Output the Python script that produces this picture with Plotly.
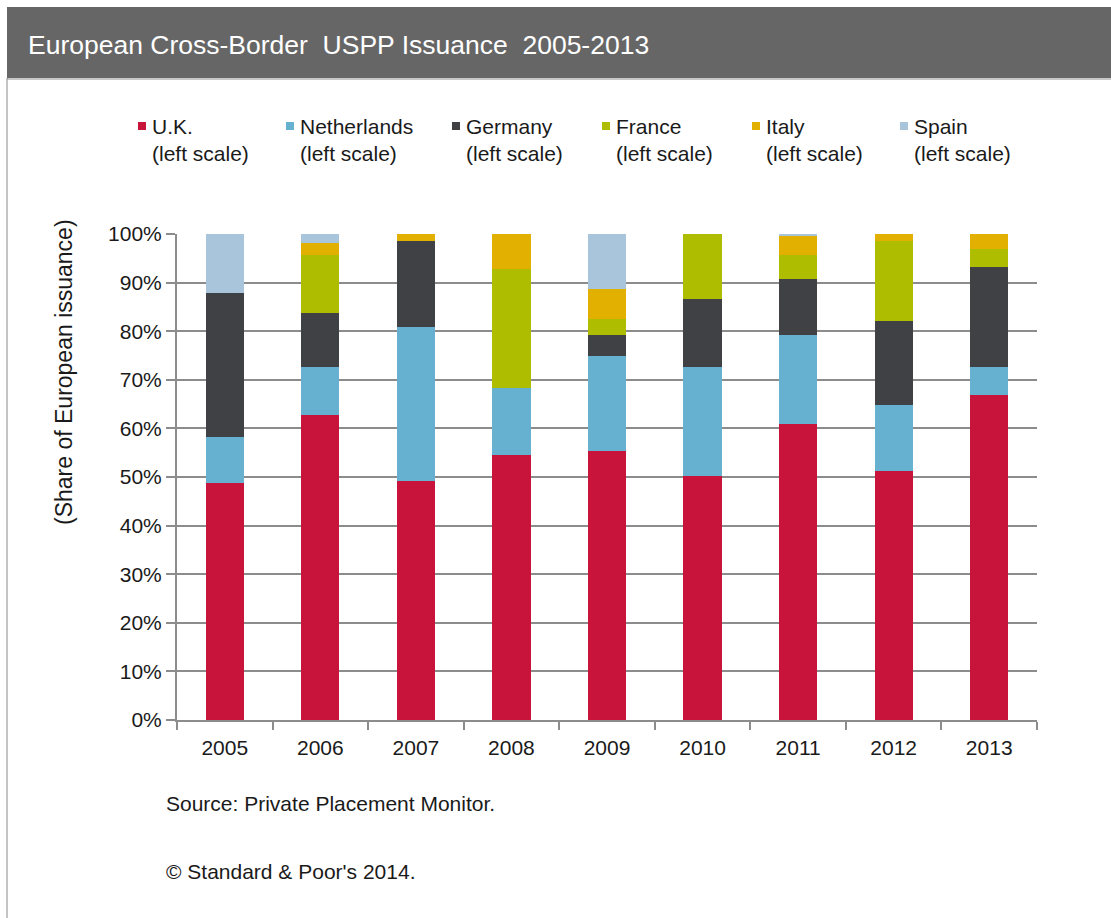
import plotly.graph_objects as go

# Share of European cross-border USPP issuance by country (% of total)
years = ["2005", "2006", "2007", "2008", "2009", "2010", "2011", "2012", "2013"]
uk = [48.7, 62.8, 49.2, 54.5, 55.3, 50.3, 61.0, 51.2, 66.8]
netherlands = [9.5, 9.8, 31.6, 13.9, 19.7, 22.3, 18.2, 13.6, 5.8]
germany = [29.7, 11.1, 17.7, 0.0, 4.2, 14.0, 11.5, 17.2, 20.6]
france = [0.0, 11.9, 0.0, 24.3, 3.3, 13.4, 5.0, 16.6, 3.7]
italy = [0.0, 2.5, 1.5, 7.3, 6.1, 0.0, 4.0, 1.4, 3.1]
spain = [12.1, 1.9, 0.0, 0.0, 11.4, 0.0, 0.3, 0.0, 0.0]

series_names = ["U.K.", "Netherlands", "Germany", "France", "Italy", "Spain"]
series_values = [uk, netherlands, germany, france, italy, spain]
series_colors = ["#C8143A", "#66B0D0", "#404144", "#AEBD00", "#E2B000", "#A9C5DC"]
y_ticks = list(range(0, 101, 10))

FONT = "Liberation Sans, Arial, sans-serif"
TXT = "#1a1a1a"
W, H = 1111, 918
PL, PR, PT, PB = 177, 1037, 234, 720  # plot area in pixels


def px(x):
    return (x - PL) / (PR - PL)


def py(y):
    return (PB - y) / (PB - PT)


fig = go.Figure()
for name, vals, col in zip(series_names, series_values, series_colors):
    fig.add_trace(go.Bar(
        x=years, y=vals, name=name,
        marker=dict(color=col, line=dict(width=0)),
        showlegend=False,
    ))

shapes = [
    # header band
    dict(type="rect", xref="paper", yref="paper",
         x0=px(7), x1=px(W + 5), y0=py(78), y1=py(7),
         fillcolor="#666666", line=dict(width=0), layer="below"),
    dict(type="line", xref="paper", yref="paper",
         x0=px(7), x1=px(W + 5), y0=py(79), y1=py(79),
         line=dict(color="#c8c8c8", width=2)),
    # left frame line
    dict(type="line", xref="paper", yref="paper",
         x0=px(7), x1=px(7), y0=py(78), y1=py(H + 5),
         line=dict(color="#8a8a8a", width=1)),
]

annotations = [
    dict(text="European Cross-Border\u00a0 USPP Issuance\u00a0 2005-2013",
         xref="paper", yref="paper", x=px(26), y=py(45),
         xanchor="left", yanchor="middle", showarrow=False,
         font=dict(family=FONT, size=26.5, color="#ffffff")),
    dict(text="(Share of European issuance)",
         xref="paper", yref="paper", x=px(64), y=py(372),
         xanchor="center", yanchor="middle", textangle=-90, showarrow=False,
         font=dict(family=FONT, size=23, color=TXT)),
    dict(text="Source: Private Placement Monitor.",
         xref="paper", yref="paper", x=px(164), y=py(803),
         xanchor="left", yanchor="middle", showarrow=False,
         font=dict(family=FONT, size=21, color=TXT)),
    dict(text="\u00a9 Standard & Poor's 2014.",
         xref="paper", yref="paper", x=px(164), y=py(871),
         xanchor="left", yanchor="middle", showarrow=False,
         font=dict(family=FONT, size=21, color=TXT)),
]

# legend entries: small square plus two-line label
legend_x = [138, 286, 452, 602, 752, 900]
for name, col, lx in zip(series_names, series_colors, legend_x):
    shapes.append(dict(type="rect", xref="paper", yref="paper",
                       x0=px(lx), x1=px(lx + 8), y0=py(130), y1=py(122),
                       fillcolor=col, line=dict(width=0)))
    annotations.append(dict(text=f"{name}<br>(left scale)",
                            xref="paper", yref="paper", x=px(lx + 12), y=py(113),
                            xanchor="left", yanchor="top", align="left",
                            showarrow=False,
                            font=dict(family=FONT, size=21, color=TXT)))

fig.update_layout(
    width=W, height=H,
    margin=dict(l=PL, r=W - PR, t=PT, b=H - PB, pad=0),
    barmode="stack", bargap=0.6,
    paper_bgcolor="#ffffff", plot_bgcolor="#ffffff",
    font=dict(family=FONT, size=21, color=TXT),
    shapes=shapes, annotations=annotations,
    xaxis=dict(
        showline=True, linecolor="#8c8c8c", linewidth=2,
        ticks="outside", tickson="boundaries", ticklen=8,
        tickcolor="#8c8c8c", tickwidth=2, ticklabelstandoff=8,
        showgrid=False, tickfont=dict(size=21, color=TXT),
    ),
    yaxis=dict(
        range=[0, 100], tickvals=y_ticks,
        ticktext=[f"{v}%" for v in y_ticks],
        showline=True, linecolor="#8c8c8c", linewidth=2,
        ticks="outside", ticklen=9, tickcolor="#8c8c8c", tickwidth=2,
        showgrid=True, gridcolor="#8c8c8c", gridwidth=2,
        zeroline=False, tickfont=dict(size=21, color=TXT),
    ),
)

fig.write_html("out.html")
